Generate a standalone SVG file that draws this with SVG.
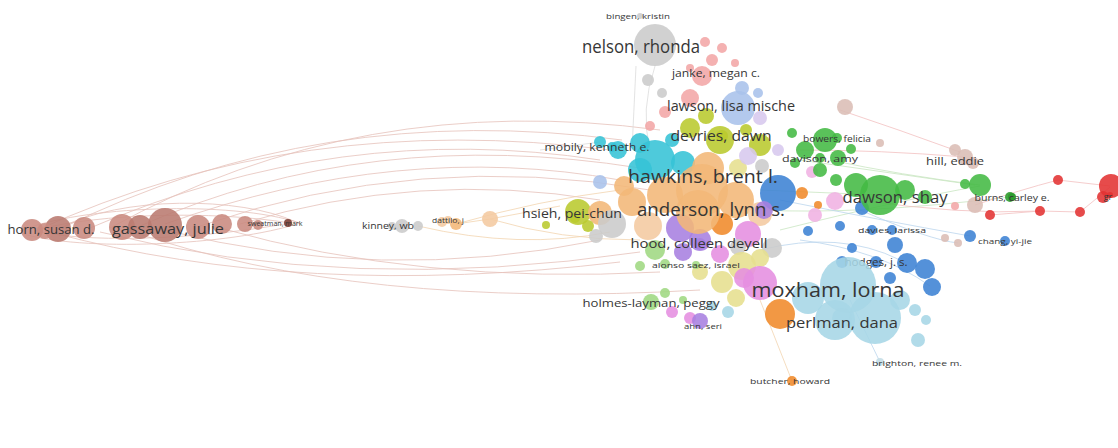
<svg xmlns="http://www.w3.org/2000/svg" width="1118" height="448" viewBox="0 0 1118 448">
<style>
text{font-family:"Open Sans","Noto Sans","Liberation Sans",sans-serif;fill:#363636;text-anchor:middle}
circle{fill-opacity:.88}
.rose{fill:#c98a80}.rose2{fill:#b97a70}.dk{fill:#7a3a30}
.gray{fill:#cbcbcb}.pink{fill:#f2a6a6}.lblue{fill:#a9c1ea}.yg{fill:#b9ca2e}
.cyan{fill:#36c3d6}.peach{fill:#f3b777}.lpeach{fill:#f4c9a0}.orange{fill:#f08a2a}
.green{fill:#43b943}.dgreen{fill:#2a9a2a}.blue{fill:#3c82d4}.sky{fill:#a6d6e6}
.purple{fill:#a77fe0}.mag{fill:#e58ee0}.lpink{fill:#f0b2e2}.red{fill:#e23232}
.tan{fill:#dbbdb5}.lg{fill:#9fd882}.yel{fill:#e6df8e}.lav{fill:#d7c8ee}
.e1{fill:none;stroke:#e6c2ba;stroke-width:1;opacity:.8}
.e2{fill:none;stroke:#f3d5b0;stroke-width:1;opacity:.8}
.e3{fill:none;stroke:#c9e6c2;stroke-width:1;opacity:.8}
.e4{fill:none;stroke:#f2c0c0;stroke-width:1;opacity:.8}
.e5{fill:none;stroke:#dcdcdc;stroke-width:1;opacity:.8}
.e6{fill:none;stroke:#bcd6ee;stroke-width:1;opacity:.8}
</style>
<rect width="1118" height="448" fill="#ffffff"/>
<g id="connectors">
<path class="e1" d="M20 231 C80 206 230 200 300 223 C230 246 80 252 20 233"/>
<path class="e1" d="M40 229 C100 214 210 210 290 223 C210 238 100 244 40 232"/>
<path class="e1" d="M60 228 C120 196 240 196 296 222"/>
<path class="e1" d="M35 231 Q300 110 610 150"/>
<path class="e1" d="M60 229 Q320 100 622 140"/>
<path class="e1" d="M90 228 Q340 120 600 160"/>
<path class="e1" d="M140 226 Q370 125 640 168"/>
<path class="e1" d="M165 224 Q400 140 620 180"/>
<path class="e1" d="M200 226 Q420 150 650 190"/>
<path class="e1" d="M110 228 Q360 90 660 130"/>
<path class="e1" d="M240 224 Q420 170 600 200"/>
<path class="e1" d="M50 232 Q300 300 620 262"/>
<path class="e1" d="M100 232 Q350 295 640 252"/>
<path class="e1" d="M165 230 Q380 285 600 240"/>
<path class="e1" d="M220 228 Q420 285 660 272"/>
<path class="e1" d="M130 231 Q360 310 700 290"/>
<path class="e2" d="M456 224 L490 219 L560 206"/>
<path class="e2" d="M418 226 Q520 250 610 232"/>
<path class="e2" d="M490 219 Q560 240 640 240"/>
<path class="e2" d="M456 224 Q540 200 620 190"/>
<path class="e5" d="M636 66 L632 150"/>
<path class="e5" d="M655 66 Q640 110 650 150"/>
<path class="e5" d="M540 150 L600 142"/>
<path class="e3" d="M760 190 L880 195"/>
<path class="e3" d="M800 160 L975 185"/>
<path class="e3" d="M830 160 Q900 175 980 185"/>
<path class="e3" d="M760 210 Q860 215 1010 197"/>
<path class="e3" d="M780 230 Q900 200 980 186"/>
<path class="e4" d="M800 150 Q880 150 965 157"/>
<path class="e4" d="M840 110 Q900 130 960 152"/>
<path class="e4" d="M860 200 Q960 215 1040 211"/>
<path class="e4" d="M990 215 L1040 211 L1080 212 Q1095 200 1110 187"/>
<path class="e4" d="M1058 180 L1110 186"/>
<path class="e4" d="M975 205 Q1020 190 1058 180"/>
<path class="e6" d="M780 200 Q880 220 970 236"/>
<path class="e6" d="M800 240 Q880 250 930 286"/>
<path class="e6" d="M860 210 Q930 240 958 243"/>
<path class="e6" d="M850 300 L880 362"/>
<path class="e2" d="M760 300 L792 381"/>
<path class="e6" d="M760 250 Q840 230 900 260"/>
</g>
<g id="cluster-left">
<circle class="rose" cx="32" cy="230" r="11"/><circle class="rose2" cx="58" cy="229" r="13"/>
<circle class="rose" cx="84" cy="228" r="11"/><circle class="rose" cx="122" cy="227" r="13"/>
<circle class="rose2" cx="165" cy="225" r="17"/><circle class="rose" cx="198" cy="227" r="12"/>
<circle class="rose" cx="222" cy="224" r="10"/><circle class="rose" cx="245" cy="224" r="8"/>
<circle class="rose" cx="258" cy="225" r="5"/>
</g>
<g id="cluster-mid">
<circle class="gray" cx="402" cy="226" r="7"/><circle class="gray" cx="418" cy="226" r="5"/>
<circle class="lpeach" cx="442" cy="222" r="5"/><circle class="peach" cx="456" cy="224" r="6"/>
<circle class="lpeach" cx="490" cy="219" r="8"/>
</g>
<g id="cluster-top">
<circle class="pink" cx="705" cy="42" r="5"/><circle class="pink" cx="722" cy="48" r="5"/>
<circle class="pink" cx="712" cy="60" r="6"/><circle class="pink" cx="690" cy="68" r="4"/>
<circle class="pink" cx="735" cy="63" r="4"/><circle class="gray" cx="648" cy="80" r="6"/>
<circle class="gray" cx="662" cy="93" r="5"/><circle class="lblue" cx="742" cy="88" r="7"/>
<circle class="lblue" cx="758" cy="93" r="5"/><circle class="pink" cx="690" cy="98" r="9"/>
<circle class="pink" cx="665" cy="112" r="6"/><circle class="pink" cx="650" cy="126" r="5"/>
<circle class="tan" cx="845" cy="107" r="8"/>
<circle class="lav" cx="760" cy="118" r="7"/>
<circle class="yg" cx="690" cy="128" r="10"/><circle class="yg" cx="706" cy="116" r="8"/>
<circle class="yg" cx="720" cy="140" r="14"/>
<circle class="yg" cx="760" cy="145" r="11"/><circle class="yg" cx="746" cy="130" r="6"/>
</g>
<g id="cluster-center">
<circle class="cyan" cx="600" cy="142" r="6"/><circle class="cyan" cx="618" cy="150" r="9"/>
<circle class="cyan" cx="640" cy="143" r="10"/><circle class="cyan" cx="655" cy="160" r="20"/>
<circle class="cyan" cx="683" cy="163" r="12"/><circle class="cyan" cx="640" cy="170" r="12"/>
<circle class="cyan" cx="672" cy="140" r="7"/>
<circle class="lblue" cx="600" cy="182" r="7"/>
<circle class="peach" cx="708" cy="168" r="16"/>
<circle class="peach" cx="665" cy="195" r="18"/><circle class="peach" cx="736" cy="200" r="18"/>
<circle class="peach" cx="632" cy="202" r="14"/><circle class="lpeach" cx="760" cy="214" r="12"/>
<circle class="yel" cx="738" cy="168" r="9"/><circle class="peach" cx="624" cy="186" r="10"/>
<circle class="lav" cx="748" cy="156" r="9"/><circle class="gray" cx="762" cy="166" r="7"/>
<circle class="lav" cx="778" cy="150" r="6"/>
<circle class="blue" cx="778" cy="193" r="18"/>
<circle class="orange" cx="802" cy="193" r="6"/><circle class="orange" cx="818" cy="205" r="4"/>
<circle class="lpink" cx="812" cy="172" r="6"/>
<circle class="yg" cx="578" cy="212" r="13"/><circle class="peach" cx="600" cy="213" r="12"/>
<circle class="gray" cx="612" cy="224" r="14"/><circle class="gray" cx="596" cy="236" r="7"/>
<circle class="yg" cx="546" cy="225" r="4"/><circle class="yg" cx="588" cy="226" r="6"/>
<circle class="lpeach" cx="648" cy="226" r="14"/><circle class="purple" cx="680" cy="228" r="14"/>
<circle class="purple" cx="700" cy="240" r="11"/>
<circle class="orange" cx="722" cy="224" r="11"/><circle class="mag" cx="748" cy="234" r="13"/>
<circle class="purple" cx="764" cy="210" r="9"/><circle class="gray" cx="772" cy="248" r="10"/>
<circle class="lg" cx="655" cy="250" r="10"/><circle class="purple" cx="683" cy="252" r="9"/>
<circle class="mag" cx="720" cy="254" r="9"/><circle class="gray" cx="738" cy="247" r="8"/>
<circle class="lg" cx="640" cy="266" r="5"/><circle class="lg" cx="665" cy="264" r="5"/>
<circle class="yel" cx="742" cy="266" r="14"/><circle class="yel" cx="722" cy="282" r="11"/>
<circle class="yel" cx="760" cy="258" r="9"/><circle class="yel" cx="700" cy="272" r="8"/>
<circle class="yel" cx="736" cy="298" r="9"/>
<circle class="mag" cx="760" cy="283" r="17"/><circle class="mag" cx="744" cy="278" r="10"/>
</g>
<g id="cluster-green">
<circle class="green" cx="825" cy="140" r="12"/><circle class="green" cx="805" cy="150" r="9"/>
<circle class="green" cx="838" cy="158" r="8"/><circle class="green" cx="820" cy="170" r="7"/>
<circle class="green" cx="792" cy="133" r="5"/><circle class="green" cx="851" cy="149" r="5"/>
<circle class="green" cx="795" cy="163" r="5"/>
<circle class="green" cx="856" cy="185" r="12"/><circle class="green" cx="905" cy="190" r="10"/>
<circle class="green" cx="925" cy="197" r="7"/><circle class="green" cx="836" cy="180" r="6"/>
<circle class="green" cx="965" cy="184" r="5"/><circle class="green" cx="980" cy="185" r="11"/>
<circle class="dgreen" cx="1010" cy="197" r="5"/>
<circle class="lpink" cx="835" cy="201" r="9"/><circle class="lpink" cx="815" cy="215" r="7"/>
</g>
<g id="cluster-right">
<circle class="tan" cx="955" cy="150" r="6"/><circle class="tan" cx="973" cy="163" r="6"/>
<circle class="tan" cx="880" cy="143" r="4"/><circle class="tan" cx="975" cy="205" r="8"/>
<circle class="red" cx="990" cy="215" r="5"/><circle class="red" cx="1040" cy="211" r="5"/>
<circle class="red" cx="1058" cy="180" r="5"/><circle class="red" cx="1080" cy="212" r="5"/>
<circle class="red" cx="1111" cy="186" r="12"/><circle class="red" cx="1103" cy="197" r="6"/>
<circle class="blue" cx="970" cy="236" r="6"/><circle class="tan" cx="958" cy="243" r="4"/>
<circle class="tan" cx="945" cy="238" r="4"/><circle class="pink" cx="955" cy="206" r="4"/>
</g>
<g id="cluster-blue">
<circle class="blue" cx="862" cy="208" r="7"/><circle class="blue" cx="840" cy="226" r="5"/>
<circle class="blue" cx="872" cy="230" r="5"/><circle class="blue" cx="852" cy="248" r="5"/>
<circle class="blue" cx="895" cy="245" r="8"/><circle class="blue" cx="907" cy="263" r="10"/>
<circle class="blue" cx="925" cy="269" r="10"/><circle class="blue" cx="932" cy="287" r="9"/>
<circle class="blue" cx="890" cy="278" r="6"/><circle class="blue" cx="842" cy="262" r="6"/>
<circle class="blue" cx="808" cy="231" r="5"/>
</g>
<g id="cluster-sky">
<circle class="sky" cx="875" cy="318" r="26"/><circle class="sky" cx="835" cy="320" r="20"/>
<circle class="sky" cx="808" cy="298" r="16"/><circle class="sky" cx="900" cy="300" r="10"/>
<circle class="sky" cx="712" cy="306" r="5"/><circle class="sky" cx="728" cy="312" r="6"/>
<circle class="sky" cx="915" cy="310" r="6"/><circle class="sky" cx="926" cy="320" r="5"/>
<circle class="sky" cx="918" cy="340" r="7"/>
<circle class="orange" cx="780" cy="314" r="15"/>
<circle class="lg" cx="665" cy="293" r="5"/><circle class="mag" cx="672" cy="312" r="6"/>
<circle class="mag" cx="690" cy="318" r="6"/><circle class="lg" cx="683" cy="300" r="4"/>
</g>
<g id="n-bingen"><circle class="gray" cx="640" cy="16" r="3"/><text x="638" y="19" font-size="8" textLength="64" lengthAdjust="spacingAndGlyphs">bingen, kristin</text></g>
<g id="n-nelson"><circle class="gray" cx="655" cy="45" r="21"/><text x="641" y="53" font-size="18" textLength="118" lengthAdjust="spacingAndGlyphs">nelson, rhonda</text></g>
<g id="n-janke"><circle class="pink" cx="702" cy="76" r="10"/><text x="716" y="77" font-size="11" textLength="88" lengthAdjust="spacingAndGlyphs">janke, megan c.</text></g>
<g id="n-lawson"><circle class="lblue" cx="738" cy="108" r="17"/><text x="731" y="111" font-size="14" textLength="128" lengthAdjust="spacingAndGlyphs">lawson, lisa mische</text></g>
<g id="n-devries"><circle class="yg" cx="722" cy="136" r="6"/><text x="721" y="141" font-size="15" textLength="101" lengthAdjust="spacingAndGlyphs">devries, dawn</text></g>
<g id="n-mobily"><circle class="cyan" cx="612" cy="147" r="5"/><text x="597" y="151" font-size="11" textLength="105" lengthAdjust="spacingAndGlyphs">mobily, kenneth e.</text></g>
<g id="n-bowers"><circle class="green" cx="837" cy="138" r="5"/><text x="837" y="142" font-size="9" textLength="68" lengthAdjust="spacingAndGlyphs">bowers, felicia</text></g>
<g id="n-davison"><circle class="green" cx="820" cy="158" r="5"/><text x="820" y="162" font-size="9.5" textLength="76" lengthAdjust="spacingAndGlyphs">davison, amy</text></g>
<g id="n-hill"><circle class="tan" cx="965" cy="157" r="8"/><text x="955" y="165" font-size="10" textLength="58" lengthAdjust="spacingAndGlyphs">hill, eddie</text></g>
<g id="n-hawkins"><circle class="peach" cx="702" cy="190" r="26"/><text x="703" y="183" font-size="19" textLength="150" lengthAdjust="spacingAndGlyphs">hawkins, brent l.</text></g>
<g id="n-dawson"><circle class="green" cx="880" cy="195" r="20"/><text x="895" y="203" font-size="16" textLength="105" lengthAdjust="spacingAndGlyphs">dawson, shay</text></g>
<g id="n-burns"><circle class="dgreen" cx="1012" cy="197" r="4"/><text x="1012" y="201" font-size="9" textLength="75" lengthAdjust="spacingAndGlyphs">burns, carley e.</text></g>
<g id="n-hsieh"><circle class="yg" cx="575" cy="218" r="5"/><text x="572" y="218" font-size="13" textLength="100" lengthAdjust="spacingAndGlyphs">hsieh, pei-chun</text></g>
<g id="n-anderson"><circle class="peach" cx="698" cy="212" r="22"/><text x="711" y="216" font-size="19" textLength="148" lengthAdjust="spacingAndGlyphs">anderson, lynn s.</text></g>
<g id="n-horn"><circle class="rose" cx="45" cy="231" r="8"/><text x="51" y="234" font-size="12" textLength="87" lengthAdjust="spacingAndGlyphs">horn, susan d.</text></g>
<g id="n-gassaway"><circle class="rose2" cx="140" cy="227" r="12"/><text x="168" y="234" font-size="14" textLength="112" lengthAdjust="spacingAndGlyphs">gassaway, julie</text></g>
<g id="n-sweatman"><circle class="dk" cx="288" cy="223" r="4"/><text x="275" y="226" font-size="7" textLength="55" lengthAdjust="spacingAndGlyphs">sweatman, mark</text></g>
<g id="n-kinney"><circle class="gray" cx="392" cy="226" r="4"/><text x="388" y="229" font-size="9.5" textLength="52" lengthAdjust="spacingAndGlyphs">kinney, wb</text></g>
<g id="n-dattilo"><circle class="lpeach" cx="448" cy="220" r="4"/><text x="448" y="223" font-size="7.5" textLength="32" lengthAdjust="spacingAndGlyphs">dattilo, j</text></g>
<g id="n-davies"><circle class="blue" cx="892" cy="230" r="5"/><text x="892" y="233" font-size="8" textLength="68" lengthAdjust="spacingAndGlyphs">davies, larissa</text></g>
<g id="n-chang"><circle class="blue" cx="1005" cy="241" r="5"/><text x="1005" y="244" font-size="8" textLength="54" lengthAdjust="spacingAndGlyphs">chang, yi-jie</text></g>
<g id="n-hood"><circle class="purple" cx="700" cy="244" r="6"/><text x="699" y="248" font-size="13" textLength="137" lengthAdjust="spacingAndGlyphs">hood, colleen deyell</text></g>
<g id="n-alonso"><circle class="lg" cx="696" cy="265" r="4"/><text x="696" y="268" font-size="8" textLength="88" lengthAdjust="spacingAndGlyphs">alonso saez, israel</text></g>
<g id="n-hodges"><circle class="blue" cx="876" cy="262" r="6"/><text x="876" y="266" font-size="10" textLength="63" lengthAdjust="spacingAndGlyphs">hodges, j. s.</text></g>
<g id="n-moxham"><circle class="sky" cx="848" cy="285" r="28"/><text x="828" y="297" font-size="20" textLength="153" lengthAdjust="spacingAndGlyphs">moxham, lorna</text></g>
<g id="n-holmes"><circle class="lg" cx="651" cy="302" r="8"/><text x="651" y="307" font-size="11.5" textLength="137" lengthAdjust="spacingAndGlyphs">holmes-layman, peggy</text></g>
<g id="n-perlman"><circle class="sky" cx="842" cy="318" r="10"/><text x="842" y="328" font-size="15" textLength="112" lengthAdjust="spacingAndGlyphs">perlman, dana</text></g>
<g id="n-ahn"><circle class="purple" cx="700" cy="321" r="8"/><text x="703" y="329" font-size="7.5" textLength="38" lengthAdjust="spacingAndGlyphs">ahn, seri</text></g>
<g id="n-brighton"><circle fill="#c4dde6" cx="880" cy="362" r="4"/><text x="917" y="366" font-size="8" textLength="90" lengthAdjust="spacingAndGlyphs">brighton, renee m.</text></g>
<g id="n-butcher"><circle class="orange" cx="792" cy="381" r="5"/><text x="790" y="384" font-size="8" textLength="80" lengthAdjust="spacingAndGlyphs">butcher, howard</text></g>
<g id="n-gr"><circle class="red" cx="1110" cy="195" r="3"/><text x="1108" y="200" font-size="9">gr</text></g>
</svg>
